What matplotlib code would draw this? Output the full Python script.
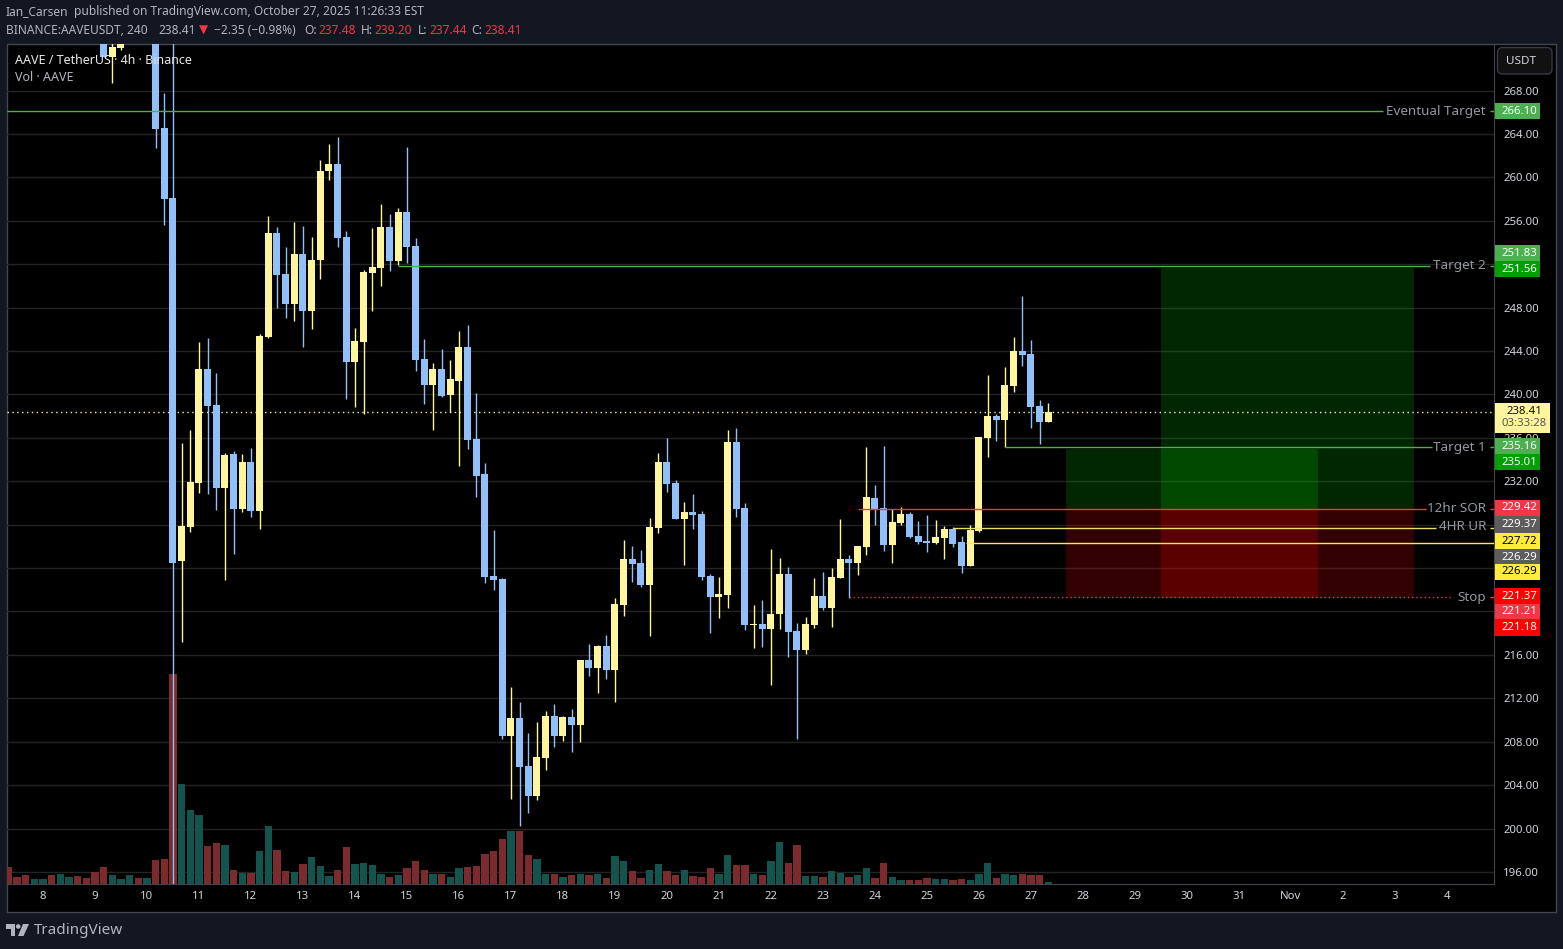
import numpy as np
import matplotlib
matplotlib.use("Agg")
import matplotlib.pyplot as plt
from matplotlib.patches import Rectangle, FancyBboxPatch, Polygon, Circle
from matplotlib.transforms import Affine2D, blended_transform_factory

plt.rcParams['font.family'] = ['Noto Sans', 'DejaVu Sans']

W, H = 1563, 949
BG = '#131722'; UP = '#FFF59D'; DOWN = '#90BFF9'
TXT = '#D1D4DC'; MUTED = '#B2B5BE'; BORDER = '#434651'
VOL_UP = '#13544E'; VOL_DOWN = '#7B2B2E'

# 4h candles, index 0 = midnight of the 8th
candle_first = 7
opens = [274.5,271.12,271.92,273.2,277.0,275.0,277.0,264.55,258.10,224.66,227.79,231.84,242.35,239.03,231.38,234.51,229.45,233.78,229.26,245.29,
254.88,251.10,248.34,252.94,247.69,252.39,260.59,261.24,254.51,242.99,244.83,251.19,251.65,255.43,252.30,256.81,253.68,243.27,240.87,242.35,
239.95,241.24,244.37,235.90,232.67,223.27,223.00,208.53,210.19,205.77,203.00,206.50,210.37,208.53,210.28,209.54,215.53,214.80,216.82,214.61,
220.60,224.84,224.47,222.44,227.70,233.78,231.84,228.53,229.17,228.99,223.27,221.34,221.52,235.62,229.54,218.76,218.85,218.39,219.77,223.46,
218.21,216.46,218.76,221.43,220.32,223.09,224.84,224.47,225.95,230.46,229.54,226.13,228.16,228.99,226.96,226.50,226.31,226.77,227.60,226.41,
224.19,227.42,235.99,238.02,237.65,240.78,244.01,243.73,238.94,237.48]
highs = [275.5,274.0,274.0,279.0,278.0,278.0,278.0,267.75,285.0,235.53,236.73,244.83,245.20,241.98,234.61,234.79,234.51,235.07,245.57,256.44,
255.43,253.59,255.89,255.52,254.51,261.60,263.08,263.72,255.06,246.12,251.47,255.34,257.55,256.63,257.18,262.80,254.42,245.11,242.90,244.19,
243.18,245.85,246.40,240.14,233.69,227.51,223.09,213.05,211.66,208.81,209.82,210.83,211.48,210.37,211.02,215.53,217.01,216.92,217.84,221.25,
226.59,226.04,225.67,228.62,234.61,235.99,232.12,230.09,230.83,229.26,223.46,223.18,236.73,236.91,230.00,220.60,221.06,225.76,224.93,224.10,
218.94,219.50,223.09,223.64,224.01,228.53,225.21,226.04,235.16,231.66,235.25,229.45,229.63,229.17,228.34,228.89,228.43,227.88,227.79,226.96,
227.97,236.08,241.79,238.20,242.53,245.29,249.07,245.02,239.49,239.20]
lows = [271.12,268.73,271.74,272.6,273.5,274.0,262.74,255.62,170.0,217.19,227.33,230.92,230.83,229.35,222.90,225.30,229.17,228.71,227.60,245.20,
247.97,247.05,246.77,244.37,246.03,250.64,259.76,253.59,239.58,238.85,238.20,247.69,249.99,251.38,251.93,252.11,242.16,239.12,236.73,239.77,
238.38,233.41,234.98,230.55,222.63,221.98,208.25,202.73,200.24,201.44,202.63,205.40,207.52,208.07,207.06,207.98,214.06,212.49,213.78,211.66,
219.59,222.72,222.26,217.75,227.24,231.01,228.53,224.29,227.60,222.90,218.02,219.40,220.32,228.71,218.30,216.64,216.73,213.23,218.39,215.81,
208.25,216.09,218.48,220.14,218.57,223.09,221.25,223.37,225.21,227.97,225.58,224.47,227.97,226.77,226.22,225.48,226.22,224.84,225.95,223.55,
224.19,227.33,234.24,235.71,235.16,240.23,242.62,236.91,235.44,237.44]
closes = [271.12,272.02,273.2,277.0,275.0,277.0,264.46,258.01,224.47,227.88,231.93,242.35,238.94,231.38,234.42,229.45,233.78,229.26,245.39,254.88,
251.01,248.34,252.94,247.69,252.39,260.59,261.24,254.42,242.99,244.93,251.28,251.74,255.43,252.30,256.81,253.59,243.18,240.87,242.35,239.86,
241.43,244.37,235.80,232.49,223.18,222.90,208.53,210.19,205.67,203.00,206.60,210.37,208.53,210.28,209.54,215.53,214.80,216.82,214.61,220.69,
224.84,224.38,222.44,227.79,233.78,231.75,228.53,229.17,228.89,223.18,221.34,221.61,235.62,229.45,218.76,218.85,218.39,219.77,223.46,218.11,
216.46,218.85,221.43,220.32,223.18,224.84,224.47,226.04,230.55,229.45,226.13,228.25,228.99,226.87,226.41,226.31,226.87,227.60,226.22,224.19,
227.51,236.08,238.02,237.65,240.87,244.01,243.64,238.85,237.46,238.41]

# Volume (approximate units); index starts four bars before the 8th
volume_first = -4
volumes = [51,21,27,15,15,27,30,21,24,18,36,51,27,15,27,18,18,72,75,630,300,222,207,114,123,117,42,33,33,99,174,102,39,36,60,81,54,24,42,111,60,63,57,30,21,27,48,69,42,30,30,21,48,51,54,90,99,135,159,159,87,
75,30,30,21,27,30,27,30,18,84,69,39,18,42,60,39,27,42,24,21,48,30,87,57,57,30,27,69,126,63,117,24,24,21,39,33,21,27,48,18,63,21,12,12,12,18,15,15,12,15,12,30,63,18,30,27,30,27,27,6]
volume_up = ("DDDUUDUUDD" "DDUUUDUDDD" "UUUDDUDUDU" "UDDUDUUUDD" "UUUUDUDDDU" "DUUDDDDDUD"
             "DUUDUDUDUD" "UUDDUUDDUD" "DDUUDDUDUU" "DDUUDUUDUU" "DDUUDDDUUD" "DUUUDUUDDD" "U")

price_ticks = list(range(196, 272, 4))
hidden_ticks = [252, 228, 224, 220]
day_labels = ['8','9','10','11','12','13','14','15','16','17','18','19','20','21','22','23','24','25','26','27','28','29','30','31','Nov','2','3','4']
day_ticks = [i * 6 for i in range(len(day_labels))]

last_close = 238.41

# levels: price, start bar, end bar, colour, style
level_prices = [266.10, 251.83, 235.16, 229.42, 227.72, 226.29, 221.37]
level_starts = [-4.2, 41, 111, 94, 105, 106.5, 93]
level_ends = [154.6, 160.1, 160.3, 159.6, 160.7, 167.6, 162.7]
level_colors = ['#4CAF50', '#4CAF50', '#4CAF50', '#F23645', '#E8E06A', '#FFEB3B', '#F23645']
level_styles = ['-', '-', '-', '-', '-', '-', ':']
level_names = ['Eventual Target', 'Target 2', 'Target 1', '12hr SOR', '4HR UR', '', 'Stop']
label_rows = [111, 266, 447, 509, 527, 0, 598]

# position boxes: start, end, stop, entry, target
pos_starts = [118, 129]
pos_ends = [147.1, 158.2]
pos_stops = [221.2, 221.2]
pos_entries = [229.42, 229.42]
pos_targets = [235.01, 251.62]

fig = plt.figure(figsize=(W / 100, H / 100), dpi=100, facecolor=BG)
T = Affine2D().scale(1 / W, -1 / H).translate(0, 1) + fig.transFigure


def px_rect(x0, y0, x1, y1, **kw):
    r = Rectangle((x0, y0), x1 - x0, y1 - y0, transform=T, **kw)
    fig.add_artist(r)
    return r


def px_text(x, y, s, **kw):
    kw.setdefault('va', 'center')
    return fig.text(x / W, 1 - y / H, s, **kw)


px_rect(7, 43.5, 1556, 912, facecolor='black', edgecolor=BORDER, lw=1, zorder=-5)

XLIM = (-4.15, 167.43)
YLIM = (194.89, 272.29)
ax = fig.add_axes([7 / W, 1 - 884 / H, (1494 - 7) / W, (884 - 44) / H])
ax.patch.set_visible(False)

for s in ('top', 'left'):
    ax.spines[s].set_visible(False)
ax.spines['bottom'].set_color(BORDER)
ax.spines['right'].set_color(BORDER)

ax.yaxis.tick_right()
ax.set_yticks(price_ticks)
ax.set_yticklabels(['' if p in hidden_ticks else f'{p:.2f}' for p in price_ticks])
ax.tick_params(axis='y', length=0, pad=6.5, labelcolor=TXT, labelsize=8.2)
ax.set_xticks(day_ticks)
ax.set_xticklabels(day_labels)
ax.tick_params(axis='x', length=0, pad=5, labelcolor=TXT, labelsize=8.2)
for t, name in zip(ax.get_xticklabels(), day_labels):
    if name == 'Nov':
        t.set_fontweight('bold')
ax.grid(axis='y', color='#242424', lw=1, zorder=0)
ax.set_axisbelow(True)

# volume, scaled to the pane height
vol_tr = blended_transform_factory(ax.transData, Affine2D().scale(1, 1 / 2520) + ax.transAxes)
vol_x = np.arange(len(volumes)) + volume_first
vol_colors = [VOL_UP if c == 'U' else VOL_DOWN for c in volume_up]
ax.bar(vol_x, volumes, width=0.85, color=vol_colors, transform=vol_tr, zorder=1, linewidth=0)

# position boxes
for a, b, st, en, tg in zip(pos_starts, pos_ends, pos_stops, pos_entries, pos_targets):
    ax.add_patch(Rectangle((a, en), b - a, tg - en, facecolor='#00C800', alpha=0.2, lw=0, zorder=1.5))
    ax.add_patch(Rectangle((a, st), b - a, en - st, facecolor='#FF0000', alpha=0.2, lw=0, zorder=1.5))

# candles
xs = np.arange(len(opens)) + candle_first
o, h, l, c = map(np.array, (opens, highs, lows, closes))
cols = [UP if ci >= oi else DOWN for oi, ci in zip(o, c)]
ax.vlines(xs, l, h, colors=cols, lw=1, zorder=3, snap=True)
heights = np.maximum(np.abs(c - o), 0.12)
ax.bar(xs, heights, bottom=np.minimum(o, c), width=0.8, color=cols, linewidth=0, zorder=3)

# current price line
ax.axhline(last_close, color=UP, lw=1, ls=(0, (1, 2.5)), zorder=2.5)

# levels and their labels
for p, a, b, col, ls, name, row in zip(level_prices, level_starts, level_ends, level_colors,
                                       level_styles, level_names, label_rows):
    ax.hlines(p, a, b, colors=col, lw=1, linestyles=ls if ls == '-' else [(0, (1, 2))], zorder=4, snap=True)
    if name:
        ax.hlines(p, 167.0, 167.6, colors=col, lw=1, zorder=4, snap=True)
        px_text(1486, row, name, color='#9598A1', fontsize=9.7, ha='right')

ax.set_xlim(*XLIM)
ax.set_ylim(*YLIM)

# price tags on the axis
tag_values = ['266.10', '251.83', '251.56', '235.16', '235.01', '229.42', '229.37',
              '227.72', '226.29', '226.29', '221.37', '221.21', '221.18']
tag_rows = [111, 253, 269, 446, 462, 508, 524.5, 541, 557, 572, 596.5, 612, 627.5]
tag_fill = ['#4CAF50', '#4CAF50', '#00A000', '#4CAF50', '#00A000', '#F23645', '#5D5D5D',
            '#FFEB3B', '#5D5D5D', '#FFEB3B', '#FF0000', '#F23645', '#FF0000']
for v, r, f in zip(tag_values, tag_rows, tag_fill):
    px_rect(1495, r - 8.2, 1540, r + 8.2, facecolor=f, lw=0, zorder=2)
    px_text(1519, r, v, color='black' if f == '#FFEB3B' else 'white', fontsize=8.2, ha='center', zorder=3)
px_rect(1495, 403, 1550, 433, facecolor=UP, lw=0, zorder=2)
px_text(1524, 411, '238.41', color='#111111', fontsize=8.2, ha='center', zorder=3)
px_text(1524, 424, '03:33:28', color='#555555', fontsize=8.2, ha='center', zorder=3)

# unit button
fig.add_artist(FancyBboxPatch((1497.5, 47.5), 54.5, 26.5, boxstyle='round,pad=0,rounding_size=5',
                              transform=T, facecolor='#111111', edgecolor='#363A45', lw=1))
px_text(1521, 61, 'USDT', color=TXT, fontsize=8.4, ha='center')

# header
px_text(6, 12, 'Ian_Carsen', color=MUTED, fontsize=8.6, fontweight='medium')
px_text(74, 12, 'published on TradingView.com, October 27, 2025 11:26:33 EST', color=MUTED, fontsize=8.6)
px_text(6, 30, 'BINANCE:AAVEUSDT, 240', color=MUTED, fontsize=8.6, fontweight='bold')
px_text(158, 30, '238.41', color=MUTED, fontsize=8.6)
px_text(199, 30, '▼', color='#F23645', fontsize=8.6)
px_text(214, 30, '−2.35 (−0.98%)', color=MUTED, fontsize=8.6)
for x, s, col, w in [(304, 'O:', MUTED, 'bold'), (318, '237.48', '#F23645', 'normal'),
                     (361, 'H:', MUTED, 'bold'), (374, '239.20', '#F23645', 'normal'),
                     (418, 'L:', MUTED, 'bold'), (429, '237.44', '#F23645', 'normal'),
                     (471, 'C:', MUTED, 'bold'), (484, '238.41', '#F23645', 'normal')]:
    px_text(x, 30, s, color=col, fontsize=8.6, fontweight=w)

# legend
px_text(15, 60.5, 'AAVE / TetherUS · 4h · Binance', color='#E8E8E8', fontsize=9, fontweight='bold')
px_text(15, 77.5, 'Vol · AAVE', color=MUTED, fontsize=9)

# logo
LOGO = MUTED
fig.add_artist(Polygon([(6, 924), (15, 924), (15, 936), (11, 936), (11, 929), (6, 929)], closed=True,
                       transform=T, facecolor=LOGO, lw=0))
fig.add_artist(Circle((18.2, 926.5), 2.3, transform=T, facecolor=LOGO, lw=0))
fig.add_artist(Polygon([(23, 924), (29, 924), (23.5, 936), (18, 936)], closed=True,
                       transform=T, facecolor=LOGO, lw=0))
px_text(33.5, 930, 'TradingView', color=LOGO, fontsize=11, fontweight='bold')

fig.savefig('out.png', dpi=100, facecolor=BG)
